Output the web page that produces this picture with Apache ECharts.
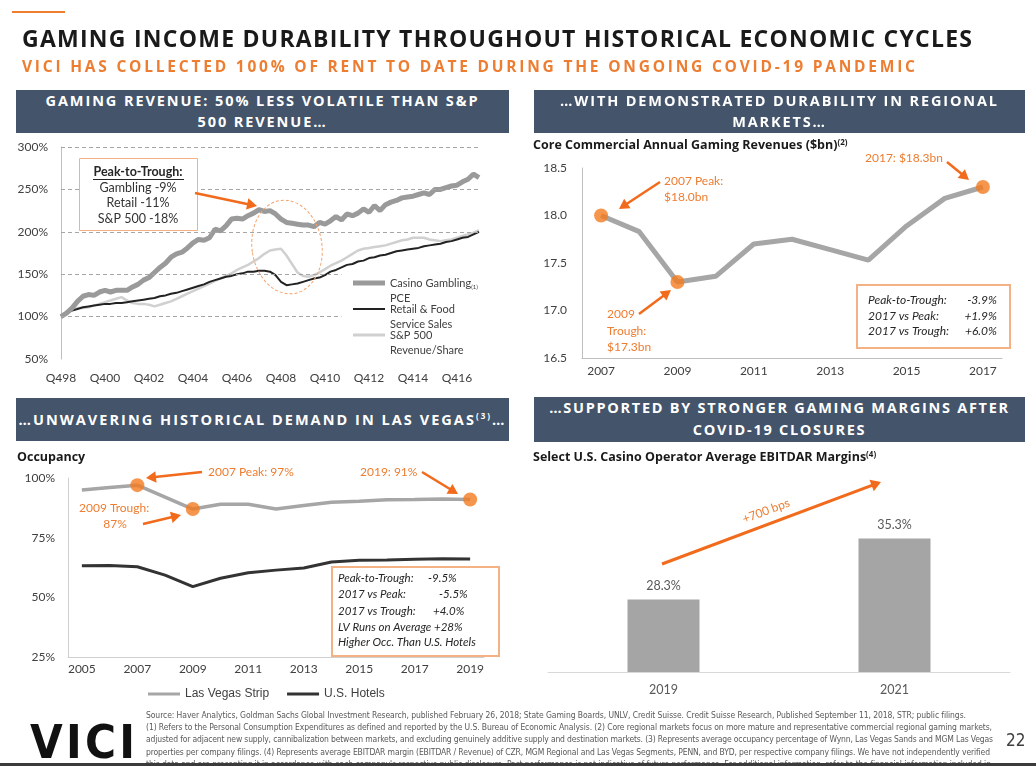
<!DOCTYPE html>
<html><head><meta charset="utf-8">
<script src="https://cdn.jsdelivr.net/npm/echarts@6/dist/echarts.min.js"></script>
<style>
html,body{margin:0;padding:0;background:#fff;}
#page{position:relative;width:1036px;height:766px;overflow:hidden;background:#fff;}
#chart{position:absolute;left:0;top:0;width:1036px;height:766px;}
.ov{position:absolute;white-space:nowrap;pointer-events:none;}
.fit{display:inline-block;white-space:nowrap;}
.banner{position:absolute;background:#44546A;color:#fff;font-family:'Open Sans',sans-serif;font-weight:700;font-size:14.5px;pointer-events:none;}
.banner .ln{position:absolute;left:0;right:0;text-align:center;white-space:nowrap;line-height:20px;}
.banner sup{font-size:8px;vertical-align:6px;line-height:0;}
.fn{position:absolute;left:146px;font-family:'Liberation Sans Narrow','DejaVu Sans Condensed',sans-serif;font-size:8.5px;line-height:12px;color:#595959;white-space:nowrap;}
</style></head>
<body><div id="page">
<div id="chart"></div>
<div class="ov" style="left:12px;top:11px;width:53px;height:2px;background:#ED7D31"></div>
<div class="ov" style="left:22px;top:23px;font-family:'Open Sans',sans-serif;font-weight:700;font-size:23px;line-height:30px;color:#1a1a1a"><span class="fit" data-w="950">GAMING INCOME DURABILITY THROUGHOUT HISTORICAL ECONOMIC CYCLES</span></div>
<div class="ov" style="left:22px;top:55px;font-family:'Open Sans',sans-serif;font-weight:700;font-size:15.5px;line-height:22px;color:#ED7D31"><span class="fit" data-w="893">VICI HAS COLLECTED 100% OF RENT TO DATE DURING THE ONGOING COVID-19 PANDEMIC</span></div>

<div class="banner" style="left:16px;top:90px;width:493px;height:43px">
  <div class="ln" style="top:1px"><span class="fit" data-w="432" data-grp="b1">GAMING REVENUE: 50% LESS VOLATILE THAN S&amp;P</span></div>
  <div class="ln" style="top:22px"><span class="fit" data-follow="b1">500 REVENUE…</span></div>
</div>
<div class="banner" style="left:534px;top:90px;width:491px;height:43px">
  <div class="ln" style="top:1px"><span class="fit" data-w="437" data-grp="b2">…WITH DEMONSTRATED DURABILITY IN REGIONAL</span></div>
  <div class="ln" style="top:22px"><span class="fit" data-follow="b2">MARKETS…</span></div>
</div>
<div class="banner" style="left:16px;top:398px;width:493px;height:43px">
  <div class="ln" style="top:12px"><span class="fit" data-w="486">…UNWAVERING HISTORICAL DEMAND IN LAS VEGAS<sup>(3)</sup>…</span></div>
</div>
<div class="banner" style="left:534px;top:397px;width:491px;height:45px">
  <div class="ln" style="top:1px"><span class="fit" data-w="459" data-grp="b4">…SUPPORTED BY STRONGER GAMING MARGINS AFTER</span></div>
  <div class="ln" style="top:23px"><span class="fit" data-follow="b4">COVID-19 CLOSURES</span></div>
</div>

<div class="ov" style="left:30px;top:718px;font-family:'Liberation Sans Narrow','DejaVu Sans Condensed',sans-serif;font-weight:bold;font-size:47px;line-height:47px;color:#111"><span class="fit" data-w="105">VICI</span></div>
<div class="ov" style="left:1006px;top:731px;font-family:'Liberation Sans Narrow','DejaVu Sans Condensed',sans-serif;font-size:17px;line-height:18px;color:#404040">22</div>

<div class="fn" style="top:709px"><span class="fit" data-w="820">Source: Haver Analytics, Goldman Sachs Global Investment Research, published February 26, 2018; State Gaming Boards, UNLV, Credit Suisse. Credit Suisse Research, Published September 11, 2018, STR; public filings.</span></div>
<div class="fn" style="top:721px"><span class="fit" data-w="846">(1) Refers to the Personal Consumption Expenditures as defined and reported by the U.S. Bureau of Economic Analysis. (2) Core regional markets focus on more mature and representative commercial regional gaming markets,</span></div>
<div class="fn" style="top:733px"><span class="fit" data-w="847">adjusted for adjacent new supply, cannibalization between markets, and excluding genuinely additive supply and destination markets. (3) Represents average occupancy percentage of Wynn, Las Vegas Sands and MGM Las Vegas</span></div>
<div class="fn" style="top:746px"><span class="fit" data-w="844">properties per company filings. (4) Represents average EBITDAR margin (EBITDAR / Revenue) of CZR, MGM Regional and Las Vegas Segments, PENN, and BYD, per respective company filings. We have not independently verified</span></div>
<div class="fn" style="top:758px"><span class="fit" data-w="845">this data and are presenting it in accordance with each company's respective public disclosure. Past performance is not indicative of future performance. For additional information, refer to the financial information included in</span></div>
<div class="ov" style="left:0;top:763px;width:1036px;height:3px;background:#3b3b3b"></div>
</div>

<script>
// ================= DATA =================
// Chart 1: quarterly index (Q4'98 = 100%)
const QUARTERS = ['Q498','Q199','Q299','Q399','Q499','Q100','Q200','Q300','Q400','Q101','Q201','Q301','Q401','Q102','Q202','Q302','Q402','Q103','Q203','Q303','Q403','Q104','Q204','Q304','Q404','Q105','Q205','Q305','Q405','Q106','Q206','Q306','Q406','Q107','Q207','Q307','Q407','Q108','Q208','Q308','Q408','Q109','Q209','Q309','Q409','Q110','Q210','Q310','Q410','Q111','Q211','Q311','Q411','Q112','Q212','Q312','Q412','Q113','Q213','Q313','Q413','Q114','Q214','Q314','Q414','Q115','Q215','Q315','Q415','Q116','Q216','Q316','Q416','Q117','Q217','Q317','Q417'];
const Y1_TICKS = [50, 100, 150, 200, 250, 300];
const CASINO_GAMBLING = [100,104,110,118,124,126,125,129,131,129,131,131,131,135,138,143,146,152,158,163,170,174,176,181,187,191,190,193,203,201,207,215,216,215,219,222,226,224,225,221,215,211,210,209,208,208,206,211,209,213,218,214,221,219,222,227,223,231,225,232,235,237,240,241,242,244,246,244,250,250,252,254,255,259,262,268,264];
const RETAIL_FOOD = [100,104,107,109,111,112,113,114,115,115,116,116,117,118,119,120,121,122,124,125,127,128,130,132,134,136,138,141,143,145,147,148,150,151,153,153,154,154,153,149,141,137,138,139,141,143,145,146,149,153,155,158,161,162,165,166,169,170,172,173,175,177,178,179,180,181,183,184,185,186,188,189,191,193,194,197,200];
const SP500_REV = [100,104,108,110,110,111,113,115,117,119,121,123,119,116,115,115,114,112,114,116,118,121,124,127,130,133,136,139,142,145,148,151,155,158,161,165,169,174,178,179,180,172,162,152,148,147,149,152,156,160,163,166,170,174,178,180,181,182,183,184,186,188,190,191,193,193,193,191,190,189,190,191,193,195,197,199,202];

// Chart 2: core commercial annual gaming revenues ($bn)
const REG_YEARS = ['2007','2008','2009','2010','2011','2012','2013','2014','2015','2016','2017'];
const REG_REVENUE = [18.0, 17.83, 17.3, 17.36, 17.70, 17.75, 17.64, 17.53, 17.89, 18.18, 18.3];
const REG_HIGHLIGHT = ['2007','2009','2017'];
const Y2_TICKS = [16.5, 17.0, 17.5, 18.0, 18.5];

// Chart 3: occupancy (%)
const OCC_YEARS = ['2005','2006','2007','2008','2009','2010','2011','2012','2013','2014','2015','2016','2017','2018','2019'];
const LV_STRIP = [95, 96, 97, 92, 87, 89, 89, 87, 88.5, 89.8, 90.3, 90.9, 91, 91.2, 91];
const US_HOTELS = [63.2, 63.3, 62.8, 59.3, 54.5, 58, 60.3, 61.4, 62.3, 64.8, 65.5, 65.6, 66, 66.2, 66.1];
const OCC_HIGHLIGHT = ['2007','2009','2019'];
const Y3_TICKS = [25, 50, 75, 100];

// Chart 4: EBITDAR margins (%)
const MARGIN_YEARS = ['2019','2021'];
const EBITDAR_MARGIN = [28.3, 35.3];

// ================= STYLE =================
const ORANGE = '#ED7D31', ARROW = '#F26A1B', DOT = '#F47C20', BOXC = '#F4B183';
const CAL = "Lato, 'Open Sans', sans-serif";
const LBL = '#404040';

function txt(x, y, text, o) {
  o = o || {};
  return {type:'text', x:x, y:y, z:100, silent:true, rotation:o.rot||0,
    style:{text:text, fill:o.fill||ORANGE, font:o.font||('12px '+CAL),
      align:o.align||'left', textAlign:o.align||'left', verticalAlign:'middle', textVerticalAlign:'middle'}};
}
function arrow(x1, y1, x2, y2, w) {
  const L = 10, W = 4 + w * 0.7;
  const dx = x2 - x1, dy = y2 - y1, d = Math.hypot(dx, dy), ux = dx / d, uy = dy / d;
  const bx = x2 - ux * L, by = y2 - uy * L;
  return [
    {type:'line', z:100, silent:true, shape:{x1:x1, y1:y1, x2:bx + ux, y2:by + uy}, style:{stroke:ARROW, lineWidth:w}},
    {type:'polygon', z:100, silent:true, shape:{points:[[x2, y2], [bx - uy * W, by + ux * W], [bx + uy * W, by - ux * W]]}, style:{fill:ARROW}}
  ];
}
function box(x, y, w, h, lw) {
  return {type:'rect', z:99, silent:true, shape:{x:x, y:y, width:w, height:h}, style:{fill:'#fff', stroke:BOXC, lineWidth:lw}};
}

const G = [];
// chart 1 annotation
G.push(box(79.5, 158.5, 118, 72, 1));
G.push(txt(138, 172, 'Peak-to-Trough:', {fill:'#262626', align:'center', font:'bold 12.5px ' + CAL}));
G.push({type:'line', z:100, silent:true, shape:{x1:93, y1:179.5, x2:184, y2:179.5}, style:{stroke:'#262626', lineWidth:1}});
G.push(txt(138, 187.5, 'Gambling -9%', {fill:'#333', align:'center', font:'12.5px ' + CAL}));
G.push(txt(138, 203, 'Retail -11%', {fill:'#333', align:'center', font:'12.5px ' + CAL}));
G.push(txt(138, 219, 'S&P 500 -18%', {fill:'#333', align:'center', font:'12.5px ' + CAL}));
G.push(...arrow(195, 193, 257, 206, 2.5));
G.push({type:'ellipse', z:100, silent:true, x:287, y:247, rotation:0.14, shape:{cx:0, cy:0, rx:35, ry:47}, style:{fill:'transparent', stroke:'#F4A46E', lineWidth:1, lineDash:[3, 2]}});
// chart 2 annotation
G.push(txt(664, 181, '2007 Peak:'));
G.push(txt(664, 197, '$18.0bn'));
G.push(...arrow(660, 182, 619, 209, 2.5));
G.push(txt(607, 314, '2009'));
G.push(txt(607, 331, 'Trough:'));
G.push(txt(607, 347, '$17.3bn'));
G.push(...arrow(639, 314, 671, 290, 2.5));
G.push(txt(865, 158, '2017: $18.3bn'));
G.push(...arrow(947, 162, 969, 180, 2.5));
G.push(box(857, 285, 153, 63, 2));
[['Peak-to-Trough:', '-3.9%', 300], ['2017 vs Peak:', '+1.9%', 316], ['2017 vs Trough:', '+6.0%', 331.5]].forEach(r => {
  G.push(txt(868, r[2], r[0], {fill:'#262626', font:'italic 12px ' + CAL}));
  G.push(txt(997, r[2], r[1], {fill:'#262626', font:'italic 12px ' + CAL, align:'right'}));
});
// chart 3 annotation
G.push(txt(208, 472, '2007 Peak: 97%'));
G.push(...arrow(202, 472, 146, 478, 2.5));
G.push(txt(79, 508, '2009 Trough:'));
G.push(txt(115, 524, '87%', {align:'center'}));
G.push(...arrow(143, 524, 181, 515, 2.5));
G.push(txt(360, 472, '2019: 91%'));
G.push(...arrow(422, 472, 458, 494, 2.5));
G.push(box(332, 567, 167, 89, 2));
[['Peak-to-Trough:', 578], ['2017 vs Peak:', 594], ['2017 vs Trough:', 611], ['LV Runs on Average +28%', 627], ['Higher Occ. Than U.S. Hotels', 642]].forEach(r => {
  G.push(txt(338, r[1], r[0], {fill:'#262626', font:'italic 11.5px ' + CAL}));
});
[['-9.5%', 428, 578], ['-5.5%', 439, 594], ['+4.0%', 433, 611]].forEach(r => {
  G.push(txt(r[1], r[2], r[0], {fill:'#262626', font:'italic 11.5px ' + CAL}));
});
// chart 4 annotation
G.push(...arrow(662, 564, 881, 482, 3));
G.push(txt(766, 511, '+700 bps', {align:'center', rot:0.356, font:'12px ' + CAL}));

// gridlines for chart 1 (skip the legend area for the lower two)
const gridLines1 = Y1_TICKS.filter(v => v > Y1_TICKS[0]).map(v =>
  v >= 200 ? {yAxis:v} : [{coord:[QUARTERS[0], v]}, {coord:[QUARTERS[51], v]}]);

function legendLine(name, top, fmt, h) {
  return {data:[name], left:353, top:top, orient:'vertical', padding:0, itemWidth:32, itemHeight:h, icon:'rect',
    selectedMode:false, formatter:() => fmt,
    textStyle:{fontFamily:CAL, fontSize:11, color:LBL, lineHeight:15, rich:{s:{fontSize:6, lineHeight:15, fontFamily:CAL, color:LBL, verticalAlign:'bottom'}}}};
}

const axisLbl = {fontFamily:CAL, fontSize:12, color:LBL};
const TITLE_FONT = "'Open Sans', sans-serif";
const supRich = {sup:{fontFamily:TITLE_FONT, fontWeight:'bold', fontSize:8, color:'#1a1a1a', verticalAlign:'top'}};

const option = {
  animation:false,
  textStyle:{fontFamily:CAL},
  title:[
    {text:'Core Commercial Annual Gaming Revenues ($bn){sup|(2)}', left:533, top:139, padding:0,
      textStyle:{fontFamily:TITLE_FONT, fontWeight:'bold', fontSize:12.5, color:'#1a1a1a', rich:supRich}},
    {text:'Occupancy', left:17, top:451, padding:0,
      textStyle:{fontFamily:TITLE_FONT, fontWeight:'bold', fontSize:12.5, color:'#1a1a1a'}},
    {text:'Select U.S. Casino Operator Average EBITDAR Margins{sup|(4)}', left:533, top:451, padding:0,
      textStyle:{fontFamily:TITLE_FONT, fontWeight:'bold', fontSize:12.5, color:'#1a1a1a', rich:supRich}}
  ],
  legend:[
    legendLine('Casino Gambling PCE', 260.5, '\nCasino Gambling{s|(1)}\nPCE', 5),
    legendLine('Retail & Food Service Sales', 286.5, '\nRetail & Food\nService Sales', 2),
    legendLine('S&P 500 Revenue/Share', 312.5, '\nS&P 500\nRevenue/Share', 3),
    {data:['Las Vegas Strip', 'U.S. Hotels'], left:148, top:688, padding:0, itemWidth:32, itemHeight:3, icon:'rect', itemGap:18,
      selectedMode:false, textStyle:{fontFamily:"'Liberation Sans', Arial, sans-serif", fontSize:12, color:LBL}}
  ],
  grid:[
    {left:61, top:147, width:418, height:212},
    {left:582, top:168, width:420, height:190},
    {left:68, top:478, width:416, height:179},
    {left:548, top:454, width:462, height:218}
  ],
  xAxis:[
    {gridIndex:0, type:'category', data:QUARTERS, boundaryGap:false, axisLine:{show:false}, axisTick:{show:false},
      axisLabel:Object.assign({interval:7, margin:13}, axisLbl)},
    {gridIndex:1, type:'category', data:REG_YEARS, boundaryGap:true, axisLine:{lineStyle:{color:'#bfbfbf'}}, axisTick:{show:false},
      axisLabel:Object.assign({interval:1, margin:7}, axisLbl)},
    {gridIndex:2, type:'category', data:OCC_YEARS, boundaryGap:true, axisLine:{lineStyle:{color:'#d0d0d0'}}, axisTick:{show:false},
      axisLabel:Object.assign({interval:1, margin:6}, axisLbl)},
    {gridIndex:3, type:'category', data:MARGIN_YEARS, boundaryGap:true, axisLine:{lineStyle:{color:'#d9d9d9'}}, axisTick:{show:false},
      axisLabel:{fontFamily:CAL, fontSize:12.5, color:'#595959', margin:11}}
  ],
  yAxis:[
    {gridIndex:0, type:'value', min:Y1_TICKS[0], max:Y1_TICKS[Y1_TICKS.length - 1], interval:50,
      axisLine:{show:true, lineStyle:{color:'#bfbfbf'}}, axisTick:{show:false}, splitLine:{show:false},
      axisLabel:Object.assign({formatter:'{value}%', margin:13}, axisLbl)},
    {gridIndex:1, type:'value', min:Y2_TICKS[0], max:Y2_TICKS[Y2_TICKS.length - 1], interval:0.5,
      axisLine:{show:true, lineStyle:{color:'#bfbfbf'}}, axisTick:{show:false}, splitLine:{show:false},
      axisLabel:Object.assign({formatter:v => v.toFixed(1), margin:15}, axisLbl)},
    {gridIndex:2, type:'value', min:Y3_TICKS[0], max:Y3_TICKS[Y3_TICKS.length - 1], interval:25,
      axisLine:{show:true, lineStyle:{color:'#d0d0d0'}}, axisTick:{show:false}, splitLine:{show:false},
      axisLabel:Object.assign({formatter:'{value}%', margin:13}, axisLbl)},
    {gridIndex:3, type:'value', min:20, max:45, show:false}
  ],
  series:[
    {name:'S&P 500 Revenue/Share', type:'line', xAxisIndex:0, yAxisIndex:0, data:SP500_REV, symbol:'none',
      lineStyle:{color:'#d0d0d0', width:2.5}, itemStyle:{color:'#d0d0d0'},
      markLine:{silent:true, symbol:['none', 'none'], label:{show:false}, lineStyle:{type:[4, 3], color:'#a6a6a6', width:1}, data:gridLines1}},
    {name:'Retail & Food Service Sales', type:'line', xAxisIndex:0, yAxisIndex:0, data:RETAIL_FOOD, symbol:'none',
      lineStyle:{color:'#222', width:2}, itemStyle:{color:'#222'}},
    {name:'Casino Gambling PCE', type:'line', xAxisIndex:0, yAxisIndex:0, data:CASINO_GAMBLING, symbol:'none',
      lineStyle:{color:'#9a9a9a', width:5}, itemStyle:{color:'#9a9a9a'}},

    {name:'Core Commercial Revenue', type:'line', xAxisIndex:1, yAxisIndex:1, data:REG_REVENUE, symbol:'none',
      lineStyle:{color:'#a6a6a6', width:5}},
    {name:'Revenue Highlights', type:'scatter', xAxisIndex:1, yAxisIndex:1, symbolSize:14, itemStyle:{color:DOT}, z:5,
      data:REG_HIGHLIGHT.map(y => [y, REG_REVENUE[REG_YEARS.indexOf(y)]])},

    {name:'Las Vegas Strip', type:'line', xAxisIndex:2, yAxisIndex:2, data:LV_STRIP, symbol:'none',
      lineStyle:{color:'#a6a6a6', width:3.5}, itemStyle:{color:'#a6a6a6'}},
    {name:'U.S. Hotels', type:'line', xAxisIndex:2, yAxisIndex:2, data:US_HOTELS, symbol:'none',
      lineStyle:{color:'#333', width:3}, itemStyle:{color:'#333'}},
    {name:'Occupancy Highlights', type:'scatter', xAxisIndex:2, yAxisIndex:2, symbolSize:14, itemStyle:{color:DOT}, z:5,
      data:OCC_HIGHLIGHT.map(y => [y, LV_STRIP[OCC_YEARS.indexOf(y)]])},

    {name:'EBITDAR Margin', type:'bar', xAxisIndex:3, yAxisIndex:3, data:EBITDAR_MARGIN, barWidth:72,
      itemStyle:{color:'#a5a5a5'},
      label:{show:true, position:'top', distance:7, formatter:p => p.value.toFixed(1) + '%', fontFamily:CAL, fontSize:12.5, color:'#595959'}}
  ],
  graphic:{elements:G}
};

const chart = echarts.init(document.getElementById('chart'), null, {renderer:'canvas'});
chart.setOption(option);

// fit the slide's header/footer texts to their widths via letter-spacing
function fitAll() {
  const groups = {};
  document.querySelectorAll('.fit[data-w]').forEach(el => {
    el.style.letterSpacing = '0px';
    const w = el.getBoundingClientRect().width;
    const n = el.textContent.length;
    const ls = (parseFloat(el.dataset.w) - w) / Math.max(1, n - 1);
    el.style.letterSpacing = ls + 'px';
    if (el.dataset.grp) groups[el.dataset.grp] = ls;
  });
  document.querySelectorAll('.fit[data-follow]').forEach(el => {
    el.style.letterSpacing = (groups[el.dataset.follow] || 0) + 'px';
  });
}
fitAll();
if (document.fonts && document.fonts.ready) document.fonts.ready.then(fitAll);
</script>
</body></html>
